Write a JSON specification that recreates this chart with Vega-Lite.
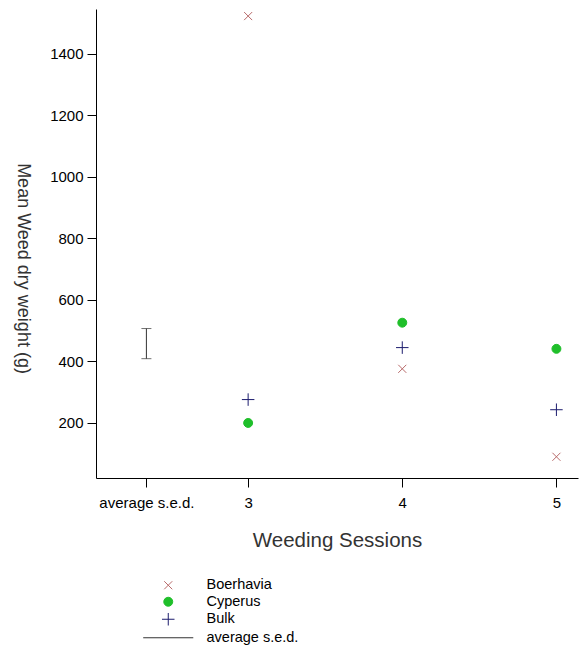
{
  "$schema": "https://vega.github.io/schema/vega-lite/v6.json",
  "width": 482,
  "height": 469,
  "autosize": "none",
  "padding": {"left": 96, "top": 9, "right": 3, "bottom": 167},
  "background": "white",
  "config": {
    "view": {"stroke": null},
    "font": "Liberation Sans",
    "axis": {"domainColor": "#000", "tickColor": "#000", "labelColor": "#000", "titleColor": "#333", "grid": false, "labelFont": "Liberation Sans", "titleFont": "Liberation Sans", "titleFontWeight": "normal"}
  },
  "layer": [
    {
      "data": {"values": [{"pos": 2.34, "lo": 409, "hi": 507}]},
      "mark": {"type": "errorbar", "ticks": {"size": 10, "color": "#333"}, "rule": {"color": "#333", "strokeWidth": 1}},
      "encoding": {
        "x": {"field": "pos", "type": "quantitative", "title": "Weeding Sessions"},
        "y": {"field": "lo", "type": "quantitative", "title": "Mean Weed dry weight (g)"},
        "y2": {"field": "hi"}
      }
    },
    {
      "data": {"values": [
        {"session": 3, "series": "Boerhavia", "weight": 1523},
        {"session": 4, "series": "Boerhavia", "weight": 376},
        {"session": 5, "series": "Boerhavia", "weight": 90},
        {"session": 3, "series": "Cyperus", "weight": 200},
        {"session": 4, "series": "Cyperus", "weight": 526},
        {"session": 5, "series": "Cyperus", "weight": 441},
        {"session": 3, "series": "Bulk", "weight": 276},
        {"session": 4, "series": "Bulk", "weight": 445},
        {"session": 5, "series": "Bulk", "weight": 243}
      ]},
      "mark": {"type": "point", "size": 80, "strokeWidth": 1, "opacity": 1},
      "encoding": {
        "x": {
          "field": "session", "type": "quantitative",
          "scale": {"domain": [2.013, 5.14], "nice": false, "zero": false},
          "axis": {"values": [2.34, 3, 4, 5], "labelExpr": "datum.value < 2.5 ? 'average s.e.d.' : format(datum.value, 'd')", "title": "Weeding Sessions", "titleFontSize": 20.5, "titlePadding": 20, "labelFontSize": 15, "tickSize": 9, "labelPadding": 8, "labelFlush": false, "labelOverlap": false}
        },
        "y": {
          "field": "weight", "type": "quantitative",
          "scale": {"domain": [21, 1546], "nice": false, "zero": false},
          "axis": {"values": [200, 400, 600, 800, 1000, 1200, 1400], "format": "d", "title": "Mean Weed dry weight (g)", "titleFontSize": 18, "titleAngle": 90, "titleX": -74, "titleY": 259, "titleAlign": "center", "titleBaseline": "middle", "labelFontSize": 15, "tickSize": 9, "labelPadding": 4}
        },
        "stroke": {
          "field": "series", "type": "nominal",
          "scale": {"domain": ["Boerhavia", "Cyperus", "Bulk", "average s.e.d."], "range": ["#b86a6a", "#1fbf2a", "#1c1c6e", "#333333"]},
          "legend": {"title": null}
        },
        "fill": {
          "field": "series", "type": "nominal",
          "scale": {"domain": ["Boerhavia", "Cyperus", "Bulk", "average s.e.d."], "range": ["transparent", "#1fbf2a", "transparent", "transparent"]},
          "legend": {"title": null}
        },
        "shape": {
          "field": "series", "type": "nominal",
          "scale": {"domain": ["Boerhavia", "Cyperus", "Bulk", "average s.e.d."], "range": ["M-0.9,-0.9L0.9,0.9M-0.9,0.9L0.9,-0.9", "circle", "M-1.4,0H1.4M0,-1.4V1.4", "M-5.6,0H5.6"]},
          "legend": {"title": null, "orient": "none", "legendX": 65, "legendY": 569, "padding": 0, "symbolSize": 80, "symbolStrokeWidth": 1, "labelFontSize": 14.5, "labelColor": "#000", "labelFont": "Liberation Sans", "labelOffset": 31, "rowPadding": 1.5, "symbolOpacity": 1}
        }
      }
    }
  ]
}
